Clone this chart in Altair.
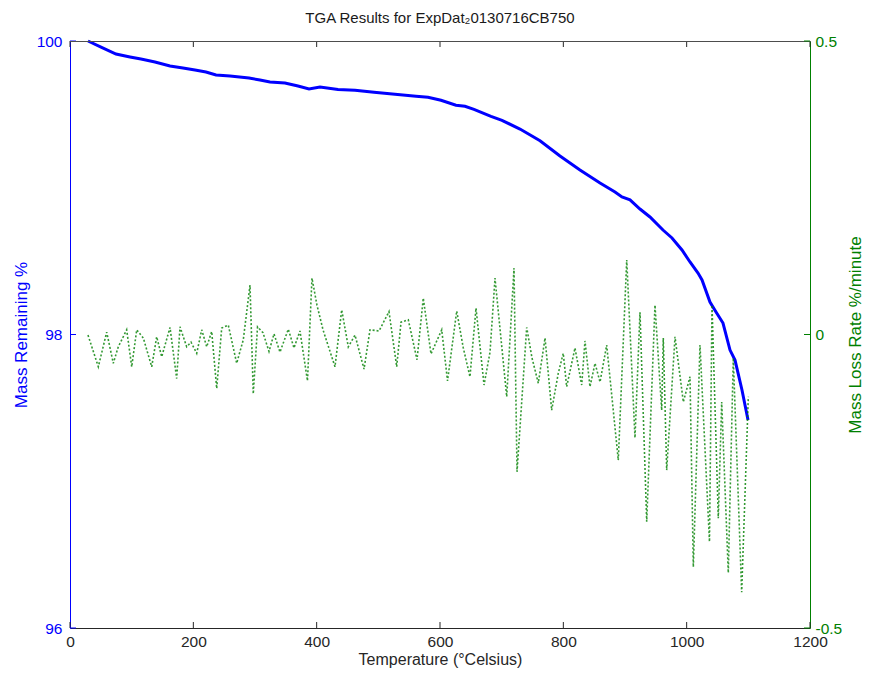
import altair as alt
import pandas as pd

# ---- data ----
temp_mass = [29.2, 50.3, 74.6, 97.3, 115.1, 137.8, 162.2, 183.2, 202.7, 220.5, 236.8, 259.5,
             290.3, 308.1, 324.3, 348.6, 369.7, 387.6, 405.4, 434.6, 462.2, 493.0, 527.0, 561.1,
             580.5, 601.6, 625.9, 640.5, 655.1, 682.7, 700.5, 729.7, 762.2, 794.6, 827.0, 859.5,
             883.8, 895.1, 908.1, 924.3, 940.5, 961.6, 976.2, 992.4, 1005.4, 1018.4, 1024.9,
             1037.8, 1047.6, 1058.9, 1070.3, 1078.4, 1089.7, 1099.5]
mass = [100.00, 99.959, 99.911, 99.891, 99.877, 99.857, 99.830, 99.816, 99.802, 99.789, 99.768,
        99.761, 99.748, 99.734, 99.721, 99.714, 99.693, 99.673, 99.687, 99.670, 99.664, 99.650,
        99.637, 99.623, 99.616, 99.596, 99.562, 99.555, 99.534, 99.487, 99.459, 99.400, 99.320,
        99.216, 99.121, 99.032, 98.971, 98.937, 98.917, 98.855, 98.801, 98.712, 98.658, 98.576,
        98.494, 98.419, 98.372, 98.221, 98.153, 98.078, 97.894, 97.826, 97.622, 97.417]

temp_rate = [29.2, 45.9, 59.5, 70.2, 78.3, 91.9, 100.1, 108.2, 118.9, 132.5, 140.6, 148.7, 162.2,
             173.0, 178.4, 189.2, 196.2, 205.5, 213.6, 221.7, 229.8, 237.9, 246.0, 256.7, 270.3,
             281.0, 291.9, 297.2, 304.1, 313.0, 322.7, 330.8, 340.5, 354.0, 363.2, 372.9, 385.1,
             392.4, 400.5, 410.3, 429.7, 440.6, 451.3, 462.2, 476.8, 486.5, 501.1, 517.3, 529.8,
             536.8, 548.6, 562.7, 572.9, 585.4, 602.8, 612.2, 627.1, 637.8, 648.6, 658.4, 671.4,
             681.1, 689.2, 708.2, 720.0, 724.9, 740.6, 749.2, 759.4, 770.3, 781.1, 791.8, 799.9,
             805.4, 818.9, 829.8, 835.1, 843.2, 851.4, 859.5, 870.3, 889.1, 902.8, 916.2, 924.3,
             935.2, 948.6, 959.5, 962.1, 967.6, 981.1, 994.6, 1005.4, 1010.8, 1021.6, 1037.0,
             1041.1, 1051.3, 1056.8, 1067.5, 1075.6, 1089.2, 1100.0]
rate = [-0.001, -0.055, 0.004, -0.049, -0.021, 0.008, -0.055, 0.008, -0.006, -0.055, -0.004,
        -0.038, 0.012, -0.075, 0.013, -0.021, -0.013, -0.032, 0.008, -0.021, 0.005, -0.092, 0.011,
        0.016, -0.049, -0.009, 0.084, -0.101, 0.013, 0.003, -0.029, 0.001, -0.030, 0.009, -0.023,
        0.006, -0.079, 0.096, 0.050, 0.008, -0.055, 0.042, -0.021, -0.001, -0.059, 0.008, 0.006,
        0.039, -0.055, 0.021, 0.025, -0.043, 0.062, -0.033, 0.008, -0.079, 0.040, -0.023, -0.072,
        0.045, -0.086, -0.030, 0.096, -0.106, 0.113, -0.234, 0.012, -0.040, -0.083, -0.006, -0.129,
        -0.066, -0.032, -0.089, -0.023, -0.086, -0.011, -0.089, -0.049, -0.081, -0.018, -0.214,
        0.127, -0.176, 0.038, -0.319, 0.050, -0.129, -0.006, -0.231, -0.004, -0.115, -0.072,
        -0.396, -0.018, -0.353, 0.050, -0.313, -0.115, -0.406, -0.040, -0.439, -0.106]

x_ticks = [0, 200, 400, 600, 800, 1000, 1200]
left_ticks = [96, 98, 100]
right_ticks = [-0.5, 0, 0.5]

title_text = ["TGA Results for ExpDat\u20820130716CB750"]
x_title = "Temperature (\u00b0Celsius)"
left_title = "Mass Remaining %"
right_title = "Mass Loss Rate %/minute"

BLUE = "#0000ff"
GREEN = "#008000"
BLACK = "#262626"
FONT = "Liberation Sans"
W, H = 740, 587
LAB = 15.5
TIT = 17

df_mass = pd.DataFrame({"T": temp_mass, "mass": mass})
df_rate = pd.DataFrame({"T": temp_rate, "rate": rate})
df_xt = pd.DataFrame({"T": x_ticks})
df_lt = pd.DataFrame({"mass": left_ticks})
df_rt = pd.DataFrame({"rate": right_ticks})
df_title = pd.DataFrame({"t": title_text})

x_enc = alt.X(
    "T:Q",
    title=x_title,
    scale=alt.Scale(domain=[0, 1200], nice=False, zero=False),
    axis=alt.Axis(values=x_ticks, ticks=False, grid=False, labelFlush=False,
                  labelOverlap=False, domainColor=BLACK, labelColor=BLACK, titleColor=BLACK,
                  labelPadding=6, titlePadding=2, labelFontSize=LAB, titleFontSize=16,
                  labelFont=FONT, titleFont=FONT, titleFontWeight="normal",
                  labelExpr="'' + datum.value"),
)

left_enc = alt.Y(
    "mass:Q",
    title=left_title,
    scale=alt.Scale(domain=[96, 100], nice=False, zero=False),
    axis=alt.Axis(orient="left", values=left_ticks, ticks=False, grid=False,
                  domainColor=BLUE, labelColor=BLUE, titleColor=BLUE,
                  labelPadding=8, titlePadding=6, labelFontSize=LAB, titleFontSize=TIT,
                  labelFont=FONT, titleFont=FONT, titleFontWeight="normal",
                  labelExpr="'' + datum.value"),
)

right_enc = alt.Y(
    "rate:Q",
    title=right_title,
    scale=alt.Scale(domain=[-0.5, 0.5], nice=False, zero=False),
    axis=alt.Axis(orient="right", values=right_ticks, ticks=False, grid=False,
                  domainColor=GREEN, labelColor=GREEN, titleColor=GREEN,
                  labelPadding=5, titlePadding=23, labelFontSize=LAB, titleFontSize=TIT,
                  labelFont=FONT, titleFont=FONT, titleFontWeight="normal",
                  titleAngle=270, labelExpr="'' + datum.value"),
)

blue_line = alt.Chart(df_mass).mark_line(color=BLUE, strokeWidth=3).encode(x=x_enc, y=left_enc)
xt_bottom = alt.Chart(df_xt).mark_rule(color=BLACK, strokeWidth=1).encode(
    x=x_enc, y=alt.value(H), y2=alt.value(H - 6))
xt_top = alt.Chart(df_xt).mark_rule(color=BLACK, strokeWidth=1).encode(
    x=x_enc, y=alt.value(0), y2=alt.value(6))
lt = alt.Chart(df_lt).mark_rule(color=BLUE, strokeWidth=1).encode(
    y=left_enc, x=alt.value(0), x2=alt.value(6))
top_frame = alt.Chart(df_title).mark_rule(color="#4d4d4d", strokeWidth=1).encode(
    x=alt.value(0), x2=alt.value(W), y=alt.value(0.5))
title_mark = alt.Chart(df_title).mark_text(
    font=FONT, fontSize=15, color="#1a1a1a", align="center", baseline="alphabetic").encode(
    text="t:N", x=alt.value(W / 2), y=alt.value(-18))

green_line = alt.Chart(df_rate).mark_line(
    color=GREEN, strokeWidth=1.6, strokeDash=[2, 2], opacity=0.8).encode(x=x_enc, y=right_enc)
rt = alt.Chart(df_rt).mark_rule(color=GREEN, strokeWidth=1).encode(
    y=right_enc, x=alt.value(W), x2=alt.value(W - 6))

left_layer = alt.layer(blue_line, xt_bottom, xt_top, lt, top_frame, title_mark)
right_layer = alt.layer(green_line, rt)

chart = alt.layer(left_layer, right_layer).resolve_scale(y="independent").properties(
    width=W, height=H,
    autosize=alt.AutoSizeParams(type="none"),
    padding={"left": 62, "top": 33, "right": 56, "bottom": 41},
).configure_view(stroke=None).configure(background="white")

chart.save("out.html", embed_options={"renderer": "svg", "actions": False})
